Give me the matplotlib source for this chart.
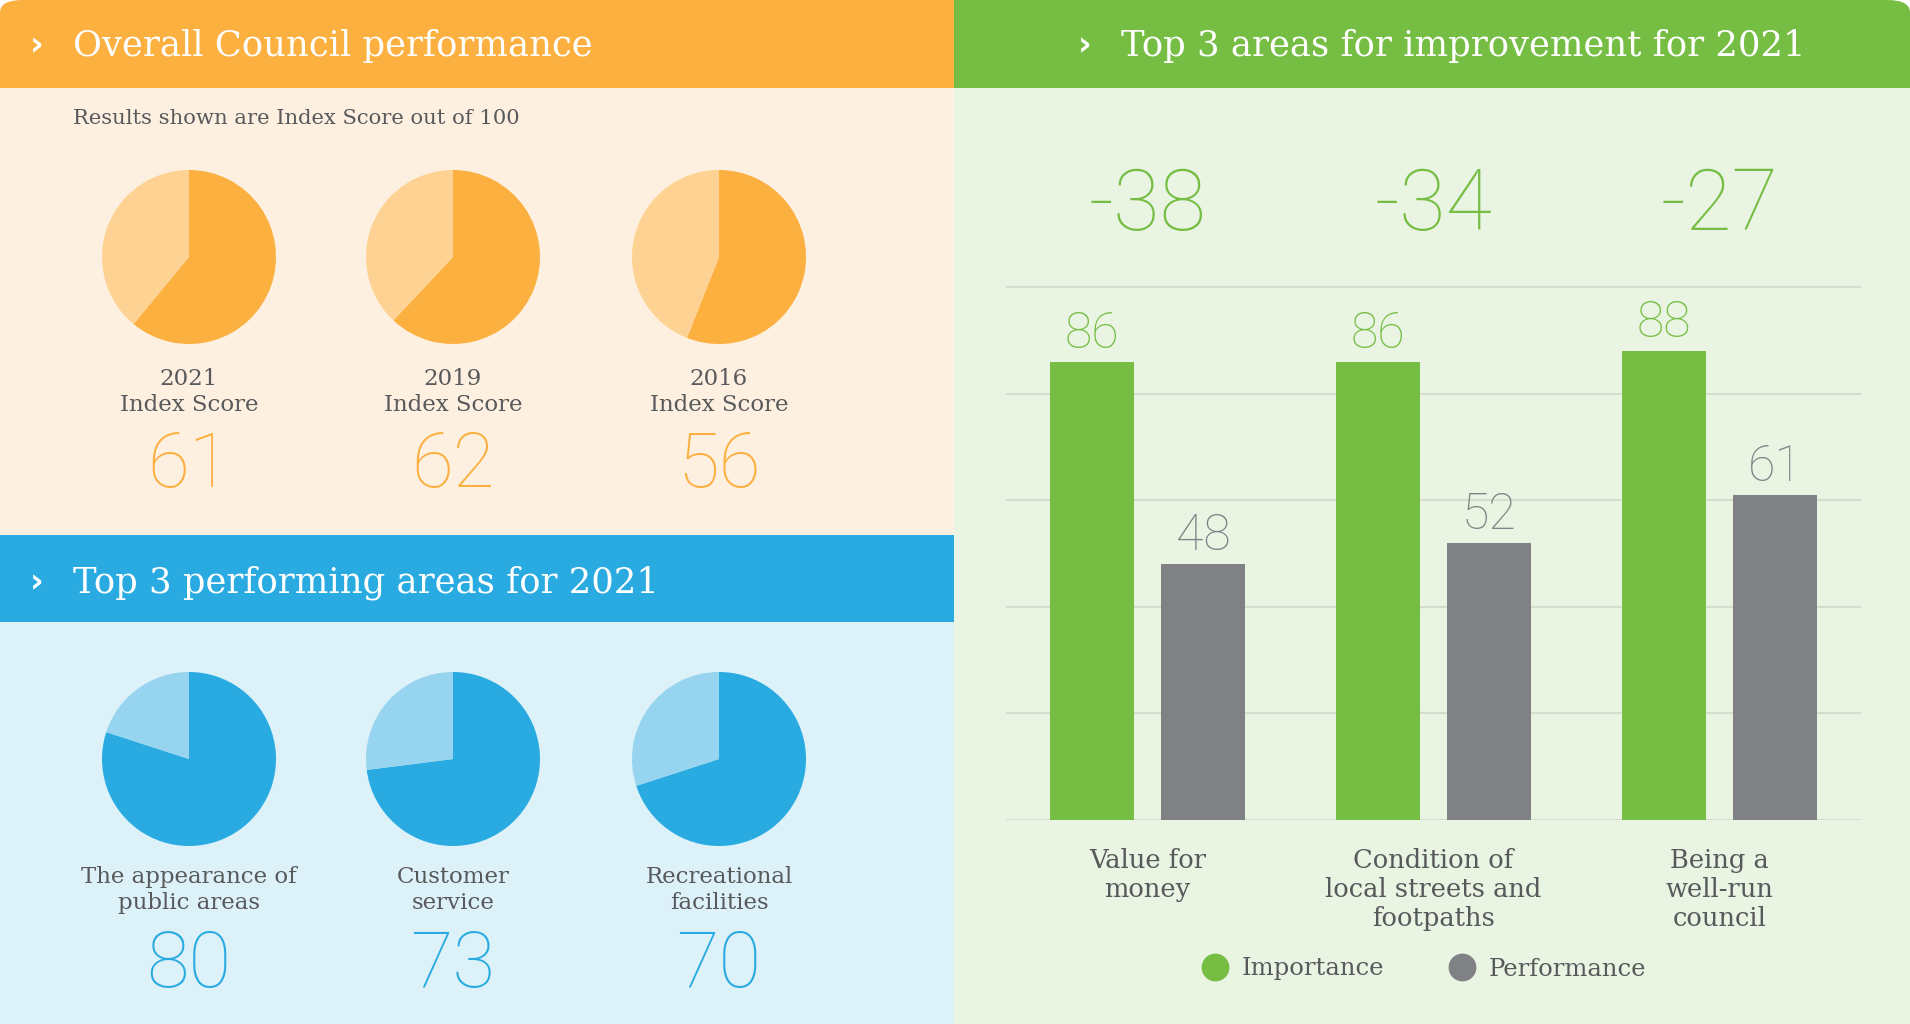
import matplotlib.pyplot as plt
from matplotlib.patches import Rectangle, FancyBboxPatch
from matplotlib.lines import Line2D
import numpy as np

W, H = 1910, 1024

# Overall council performance
years = ["2021", "2019", "2016"]
index_scores = [61, 62, 56]

# Top 3 performing areas
top_areas = ["The appearance of\npublic areas", "Customer\nservice", "Recreational\nfacilities"]
top_scores = [80, 73, 70]

# Top 3 areas for improvement
improve_areas = ["Value for\nmoney", "Condition of\nlocal streets and\nfootpaths", "Being a\nwell-run\ncouncil"]
importance = [86, 86, 88]
performance = [48, 52, 61]
gaps = [-38, -34, -27]

ORANGE, ORANGE_LT, BEIGE = "#FBB040", "#FDD292", "#FEF0E0"
BLUE, BLUE_LT, BLUE_BG = "#29ABE2", "#96D4EF", "#DDF1F9"
GREEN, GREEN_BG, GREY = "#76BE43", "#E9F4E3", "#808184"
TEXT = "#58595B"
SLAB = "DejaVu Serif"
THIN = "Roboto"


def fx(x):
    return x / W


def fy(y):
    return 1 - y / H


def box(x0, y0, x1, y1, color, rounded=False):
    if rounded:
        p = FancyBboxPatch((fx(x0), fy(y1)), fx(x1 - x0), (y1 - y0) / H,
                           boxstyle="round,pad=0,rounding_size=0.012",
                           transform=fig.transFigure, fc=color, ec="none")
    else:
        p = Rectangle((fx(x0), fy(y1)), fx(x1 - x0), (y1 - y0) / H,
                      transform=fig.transFigure, fc=color, ec="none")
    p.set_zorder(-5)
    fig.patches.append(p)


def header(x, y, title):
    fig.text(fx(x - 36), fy(y), "›", color="white", fontsize=24, fontweight="bold",
             ha="center", va="center")
    fig.text(fx(x), fy(y), title, color="white", fontsize=25.5, family=SLAB,
             ha="left", va="center")


def pie(cx, cy, value, dark, light):
    r = 87
    ax = fig.add_axes([fx(cx - r), fy(cy + r), 2 * r / W, 2 * r / H])
    ax.pie([value, 100 - value], colors=[dark, light], startangle=90,
           counterclock=False, radius=1, wedgeprops=dict(linewidth=0))
    ax.set_xlim(-1, 1)
    ax.set_ylim(-1, 1)
    ax.set_aspect("equal")
    ax.axis("off")


fig = plt.figure(figsize=(19.1, 10.24), dpi=100)
fig.patch.set_facecolor("white")

# backgrounds
box(0, 80, 954, 535, BEIGE)
box(0, 0, 1000, 88, ORANGE, rounded=True)
box(0, 40, 954, 88, ORANGE)
box(0, 535, 954, 622, BLUE)
box(0, 622, 954, 1024, BLUE_BG)
box(954, 80, 1910, 1024, GREEN_BG)
box(1800, 0, 1910, 88, GREEN, rounded=True)
box(954, 0, 1880, 88, GREEN)
box(1800, 40, 1910, 88, GREEN)

header(73, 46, "Overall Council performance")
header(73, 583, "Top 3 performing areas for 2021")
header(1121, 46, "Top 3 areas for improvement for 2021")

fig.text(fx(73), fy(118), "Results shown are Index Score out of 100", color=TEXT,
         fontsize=15.2, family=SLAB, ha="left", va="center")

# overall index score pies
pie_x = [189, 453, 719]
for cx, yr, v in zip(pie_x, years, index_scores):
    pie(cx, 257, v, ORANGE, ORANGE_LT)
    fig.text(fx(cx), fy(392), f"{yr}\nIndex Score", color=TEXT, fontsize=16.5,
             family=SLAB, ha="center", va="center", linespacing=1.2)
    fig.text(fx(cx), fy(466), str(v), color=ORANGE, fontsize=55, family=THIN,
             fontweight="light", ha="center", va="center")

# top performing area pies
for cx, name, v in zip(pie_x, top_areas, top_scores):
    pie(cx, 759, v, BLUE, BLUE_LT)
    fig.text(fx(cx), fy(890), name, color=TEXT, fontsize=16.5, family=SLAB,
             ha="center", va="center", linespacing=1.2)
    fig.text(fx(cx), fy(966), str(v), color=BLUE, fontsize=56, family=THIN,
             fontweight="light", ha="center", va="center")

# importance vs performance bars
ax = fig.add_axes([fx(1006), fy(819.5), 855 / W, (819.5 - 284) / H])
ax.set_facecolor("none")
x = np.arange(len(improve_areas))
w, off = 0.294, 0.194
ax.bar(x - off, importance, w, color=GREEN, zorder=3)
ax.bar(x + off, performance, w, color=GREY, zorder=3)
ax.set_xlim(-0.495, 2.495)
ax.set_ylim(0, 100.6)
ax.set_yticks(np.arange(0, 101, 20))
ax.set_xticks([])
ax.tick_params(left=False, labelleft=False)
ax.grid(axis="y", color="#D4DDCF", lw=1.5, zorder=0)
for s in ax.spines.values():
    s.set_visible(False)

for i in range(len(x)):
    ax.annotate(str(importance[i]), (x[i] - off, importance[i]), xytext=(0, 20),
                textcoords="offset points", ha="center", va="center",
                color=GREEN, fontsize=36, family=THIN, fontweight="light")
    ax.annotate(str(performance[i]), (x[i] + off, performance[i]), xytext=(0, 20),
                textcoords="offset points", ha="center", va="center",
                color=GREY, fontsize=36, family=THIN, fontweight="light")
    ax.text(x[i], 115.2, f"{gaps[i]}", ha="center", va="center", color=GREEN,
            fontsize=61, family=THIN, fontweight="light", clip_on=False)
    ax.text(x[i], -5.4, improve_areas[i], ha="center", va="top", color=TEXT,
            fontsize=18.5, family=SLAB, linespacing=1.2, clip_on=False)

handles = [Line2D([], [], ls="none", marker="o", ms=19, color=GREEN, label="Importance"),
           Line2D([], [], ls="none", marker="o", ms=19, color=GREY, label="Performance")]
leg = fig.legend(handles=handles, loc="center", bbox_to_anchor=(fx(1418), fy(969)),
                 ncol=2, frameon=False, handletextpad=0.1, columnspacing=2.2,
                 prop=dict(family=SLAB, size=17.5))
for t in leg.get_texts():
    t.set_color(TEXT)

fig.savefig("out.png", dpi=100, facecolor=fig.get_facecolor())
